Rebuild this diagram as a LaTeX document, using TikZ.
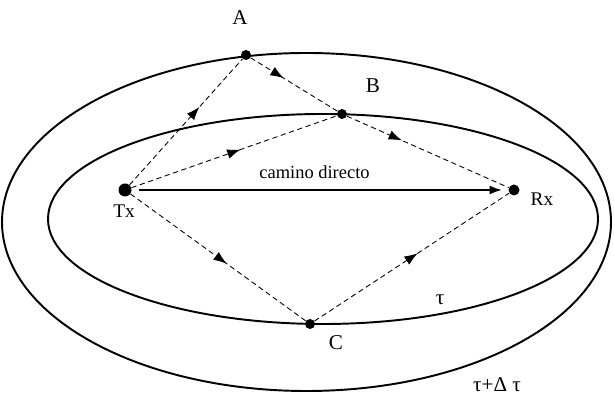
\documentclass[tikz,border=0pt]{standalone}
\usepackage{fontspec}
\setmainfont{Liberation Serif}
\usetikzlibrary{arrows.meta, positioning, decorations.markings}

\begin{document}
\begin{tikzpicture}[
    dot/.style={circle, fill=black, inner sep=0pt, minimum size=#1},
    lbl/.style={font=\fontsize{11}{13}\selectfont, inner sep=1pt},
    ray/.style={dash pattern=on 3pt off 2pt, line width=0.5pt,
                postaction={decorate, decoration={markings,
                mark=at position #1 with {\arrow{Latex[length=7.5pt,width=5.5pt]}}}}},
    ring/.style={line width=1.1pt}
  ]
    \useasboundingbox (0,0) rectangle (12.28,7.92);

    \draw[ring] (6.13,3.48) ellipse [x radius=6.09, y radius=3.38];
    \draw[ring] (6.46,3.54) ellipse [x radius=5.50, y radius=2.10];

    \node[dot=0.26cm] (tx) at (2.50,4.12) {};
    \node[dot=0.22cm] (rx) at (10.28,4.12) {};
    \node[dot=0.2cm] (pA) at (4.92,6.82) {};
    \node[dot=0.2cm] (pB) at (6.84,5.64) {};
    \node[dot=0.2cm] (pC) at (6.20,1.44) {};

    \node[lbl, font=\fontsize{12}{14}\selectfont] (lA) at (4.80,7.56) {A};
    \node[lbl, font=\fontsize{12}{14}\selectfont] (lB) at (7.46,6.20) {B};
    \node[lbl, font=\fontsize{12}{14}\selectfont] (lC) at (6.72,1.06) {C};
    \node[lbl] (ltx) at (2.48,3.70) {Tx};
    \node[lbl] (lrx) at (10.84,3.94) {Rx};
    \node[lbl, font=\fontsize{10.5}{12}\selectfont] (ldir) at (6.29,4.48) {camino directo};
    \node[lbl, font=\fontsize{12}{14}\selectfont] (ltau) at (8.80,1.92) {τ};
    \node[lbl, font=\fontsize{12}{14}\selectfont] (ldtau) at (9.94,0.22) {τ+Δ τ};

    \draw[line width=1pt, -{Latex[length=7pt,width=5pt]},
          shorten <=0.27cm, shorten >=0.24cm] (tx.center) -- (rx.center);

    \draw[ray=0.62] (tx) -- (pA);
    \draw[ray=0.38] (pA) -- (pB);
    \draw[ray=0.34] (pB) -- (rx);
    \draw[ray=0.53] (tx) -- (pB);
    \draw[ray=0.55] (tx) -- (pC);
    \draw[ray=0.53] (pC) -- (rx);
  \end{tikzpicture}
\end{document}
